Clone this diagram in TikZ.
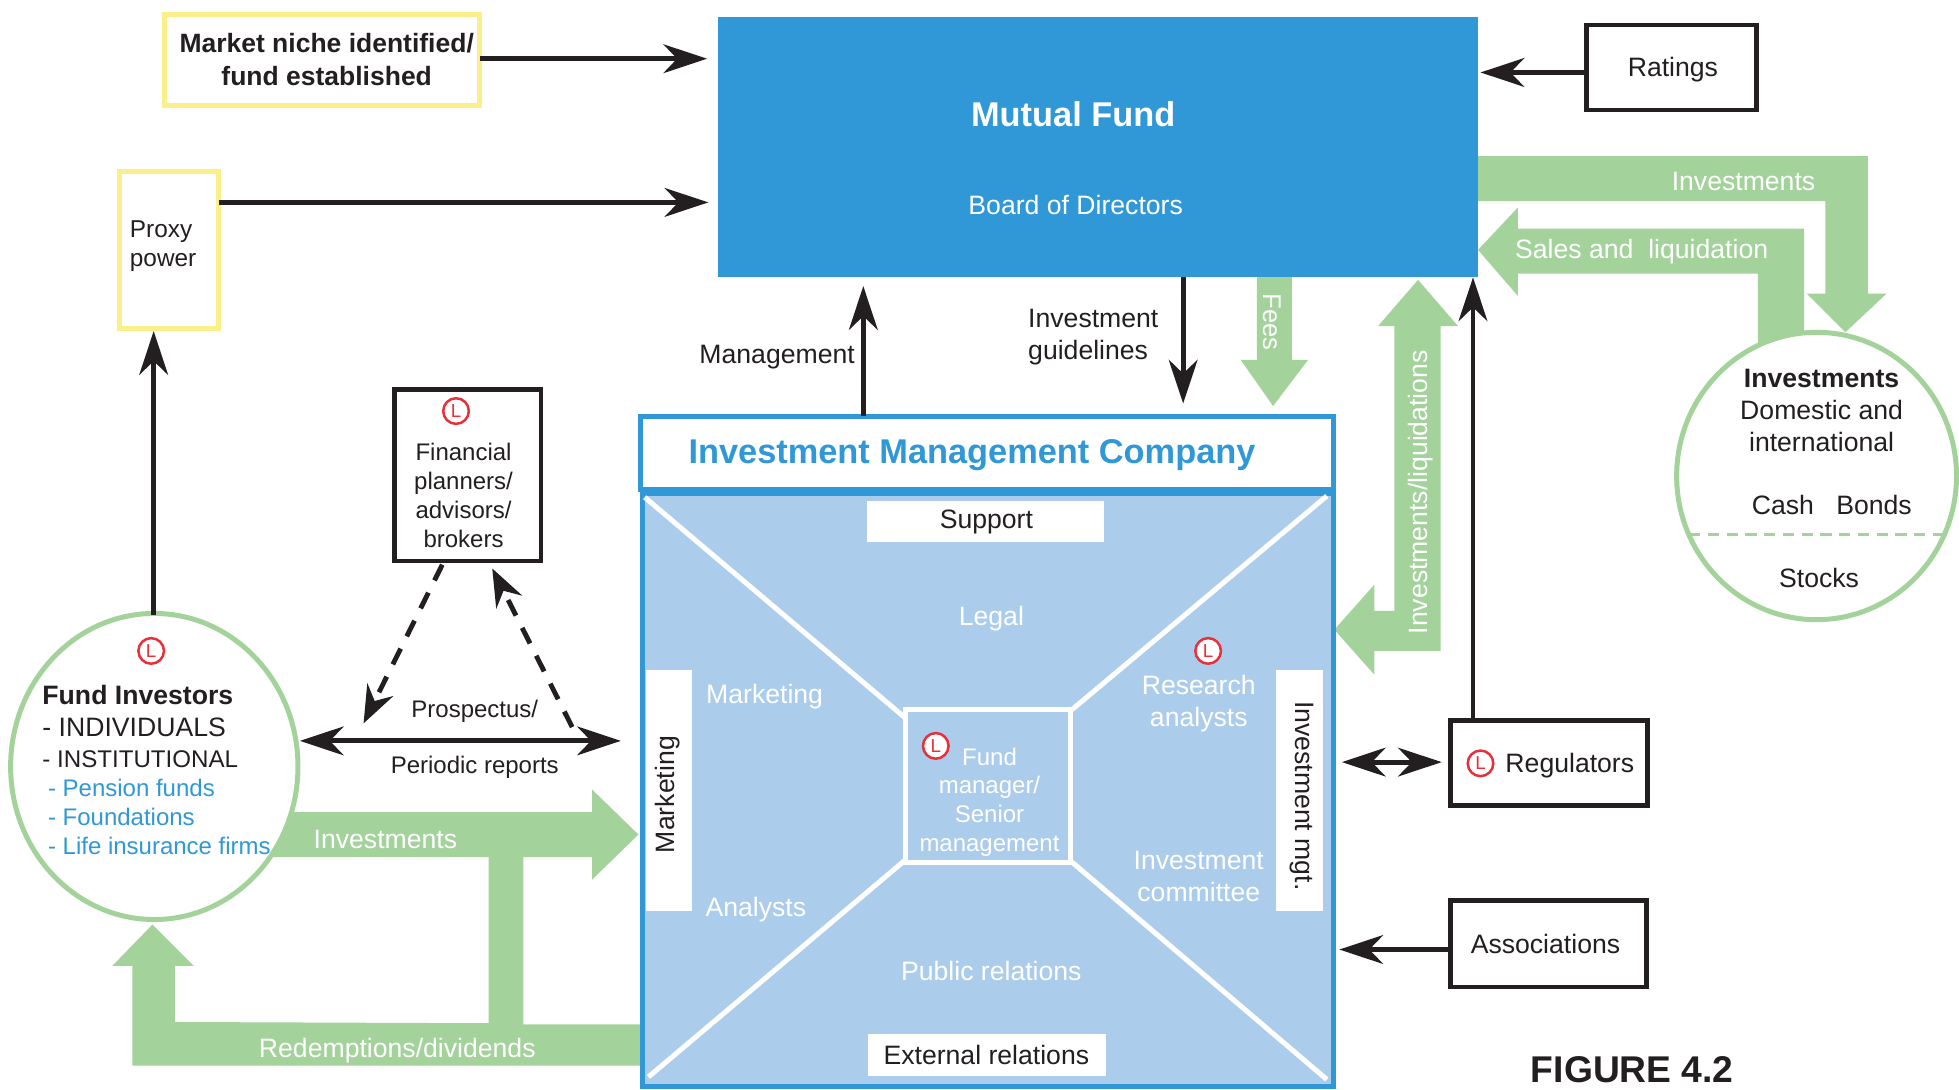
\documentclass[tikz,border=0pt]{standalone}
\usepackage{fontspec}
\setmainfont{Liberation Sans}
\usetikzlibrary{arrows.meta,shapes.geometric}
\definecolor{mfblue}{HTML}{3098D6}
\definecolor{lightblue}{HTML}{ABCDEB}
\definecolor{flowgreen}{HTML}{A3D29B}
\definecolor{ybord}{HTML}{FBEF8C}
\definecolor{inkk}{HTML}{231F20}
\definecolor{lred}{HTML}{E8303A}
\newcommand{\fs}[1]{\fontsize{#1}{#1}\selectfont}
\tikzset{
  x=1pt,y=-1pt,
  every node/.style={outer sep=0pt,inner sep=0pt,text=inkk,font=\fs{21.3}},
  ybox/.style={draw=ybord,line width=4pt,fill=white},
  kbox/.style={draw=inkk,line width=3.9pt,fill=white},
  wstrip/.style={fill=white},
  flow/.style={fill=flowgreen,draw=none},
  wtxt/.style={text=white},
  gell/.style={shape=ellipse,draw=flowgreen,line width=4pt,fill=white},
  arr/.style={draw=inkk,line width=3.9pt,-{Stealth[length=35pt,width=23pt,inset=11pt,color=inkk]}},
  dbl/.style={draw=inkk,line width=3.9pt,{Stealth[length=35pt,width=23pt,inset=11pt,color=inkk]}-{Stealth[length=35pt,width=23pt,inset=11pt,color=inkk]}},
  dsh/.style={draw=inkk,line width=3.9pt,dash pattern=on 14pt off 11pt,-{Stealth[length=30pt,width=23pt,inset=10pt,color=inkk]}},
  lmark/.style={shape=circle,draw=lred,line width=2pt,fill=white,minimum size=20.5pt,text=lred,font=\fs{15}},
  diag/.style={draw=white,line width=4pt},
}
\begin{document}
\begin{tikzpicture}
\useasboundingbox (0,0) rectangle (1568,872.4);
% green flows beneath the nodes
\path[flow] (1180,125) -- (1495,125) -- (1495,235) -- (1510,235) -- (1477,266) -- (1446,235) -- (1461,235) -- (1461,161) -- (1180,161) -- cycle;
\path[flow] (1183,200) -- (1215,166) -- (1215,183) -- (1444,183) -- (1444,290) -- (1407,290) -- (1407,219) -- (1215,219) -- (1215,237) -- cycle;
\path[flow] (1135,224) -- (1167,261) -- (1153,261) -- (1153,521) -- (1100,521) -- (1100,540) -- (1068,504) -- (1100,468) -- (1100,489) -- (1116,489) -- (1116,261) -- (1103,261) -- cycle;
\path[flow] (1006,220) -- (1034,220) -- (1034,288) -- (1047,288) -- (1019,325) -- (993,288) -- (1006,288) -- cycle;
\path[flow] (200,650) -- (474,650) -- (474,632) -- (511,668) -- (474,704) -- (474,686) -- (419,686) -- (419,820) -- (513,820) -- (513,853) -- (106,853) -- (106,773) -- (90,773) -- (122,740) -- (155,773) -- (140,773) -- (140,818) -- (391,819) -- (391,686) -- (200,686) -- cycle;

% main nodes
\node[fill=mfblue,minimum width=608pt,minimum height=208pt] (mf) at (879,118) {};
\node[text=white,font=\bfseries\fs{27.5}] (mft) at (859,91.5) {Mutual Fund};
\node[text=white,font=\fs{21.3}] (mfb) at (861,164) {Board of Directors};
\node[ybox,minimum width=252pt,minimum height=72.5pt] (market) at (258,48.2) {};
\node[align=center,font=\bfseries\fs{21.2}] (markett) at (261.5,47.5) {Market niche identified/\\[5pt]fund established};
\node[kbox,minimum width=136pt,minimum height=68pt] (ratings) at (1338,54) {};
\node (ratingst) at (1339,55.5) {Ratings};
\node[ybox,minimum width=79pt,minimum height=126pt] (proxy) at (135.5,200) {};
\node[anchor=north west,align=left,font=\fs{19.5}] (proxyt) at (104,177) {Proxy\\[3.5pt]power};
\node[kbox,minimum width=117pt,minimum height=137pt] (fp) at (374.5,380.5) {};
\node[align=center,font=\fs{19.2}] (fpt) at (371,396.5) {Financial\\[3.8pt]planners/\\[3.8pt]advisors/\\[3.8pt]brokers};
\node[lmark] (l1) at (365,329) {L};

\node[draw=mfblue,line width=4pt,fill=white,minimum width=554pt,minimum height=59pt] (hdr) at (790,362.5) {};
\node[text=mfblue,font=\bfseries\fs{27.5}] (hdrt) at (778,364) {Investment Management Company};
\node[draw=mfblue,line width=4pt,fill=lightblue,minimum width=553pt,minimum height=475pt] (body) at (790.5,632.5) {};
\coordinate (d1) at (516,398); \coordinate (d1e) at (725,575);
\coordinate (d2) at (1062,397); \coordinate (d2e) at (858,568);
\coordinate (d3) at (519,862); \coordinate (d3e) at (725,688);
\coordinate (d4) at (1062,864); \coordinate (d4e) at (858,690);
\draw[diag] (d1) -- (d1e);
\draw[diag] (d2) -- (d2e);
\draw[diag] (d3) -- (d3e);
\draw[diag] (d4) -- (d4e);
\node[draw=white,line width=4pt,fill=lightblue,minimum width=132pt,minimum height=122pt] (ctr) at (791,629) {};
\node[wtxt,align=center,font=\fs{19.2}] (ctrt) at (792,642) {Fund\\[3.8pt]manager/\\[3.8pt]Senior\\[3.8pt]management};
\node[lmark] (l2) at (749,597) {L};
\node[wstrip,minimum width=190pt,minimum height=33pt] (sup) at (789,417.5) {};
\node (supt) at (789.5,418) {Support};
\node[wstrip,minimum width=190pt,minimum height=33pt] (ext) at (790,844.5) {};
\node (extt) at (789.5,844.5) {External relations};
\node[wstrip,minimum width=37pt,minimum height=193pt] (mks) at (535.5,632.5) {};
\node[rotate=90] (mkst) at (534.5,636) {Marketing};
\node[wstrip,minimum width=38pt,minimum height=193pt] (ims) at (1040,632.5) {};
\node[rotate=-90] (imst) at (1042,637) {Investment mgt.};
\node[wtxt] (tlegal) at (793.5,495) {Legal};
\node[wtxt] (tmkt) at (612,557.5) {Marketing};
\node[wtxt] (tana) at (605,728) {Analysts};
\node[wtxt] (tpub) at (793.5,777.5) {Public relations};
\node[wtxt,align=center] (tres) at (959.5,563) {Research\\[4pt]analysts};
\node[wtxt,align=center] (tcom) at (959.5,701.5) {Investment\\[4pt]committee};
\node[lmark] (l3) at (967,521) {L};

% ellipses
\node[gell,minimum width=230pt,minimum height=245pt] (fi) at (123.5,613.5) {};
\node[lmark] (l4) at (121,521) {L};
\node[anchor=north west,align=left,font=\bfseries\fs{21.3}] (fit) at (34,548.5) {Fund Investors};
\node[anchor=north west,align=left,font=\fs{21.3}] (fit2) at (34,574.5) {- INDIVIDUALS};
\node[anchor=north west,align=left,font=\fs{19.3}] (fit3) at (34,601) {- INSTITUTIONAL};
\node[anchor=north west,align=left,text=mfblue,font=\fs{19.2}] (fib) at (38.5,624) {- Pension funds\\[3.8pt]- Foundations\\[3.8pt]- Life insurance firms};
\node[gell,minimum width=224pt,minimum height=230pt] (ie) at (1454,381) {};
\node[align=center,font=\fs{21.3}] (iet) at (1458,328.5) {\bfseries Investments\\[4pt]Domestic and\\[4pt]international};
\node (iec) at (1427,404.5) {Cash};
\node (ieb) at (1500,404.5) {Bonds};
\node (ies) at (1456,462.5) {Stocks};
\coordinate (iel) at (1352,428); \coordinate (ier) at (1557,428);
\draw[flowgreen,line width=2pt,dash pattern=on 9pt off 6pt] (iel) -- (ier);

\node[kbox,minimum width=158pt,minimum height=68pt] (reg) at (1240,611) {};
\node (regt) at (1256.5,612.5) {Regulators};
\node[lmark] (l5) at (1185,611) {L};
\node[kbox,minimum width=157pt,minimum height=69pt] (asc) at (1239.5,755.5) {};
\node (asct) at (1237,755.5) {Associations};

% labels on flows
\node[wtxt] (f1) at (1395.5,145) {Investments};
\node[wtxt] (f2) at (1314,201) {Sales and\ \ liquidation};
\node[wtxt,rotate=90] (f3) at (1137,394) {Investments/liquidations};
\node[wtxt,rotate=-90,font=\fs{20.5}] (f4) at (1018,258) {Fees};
\node[wtxt] (f5) at (308.5,672) {Investments};
\node[wtxt] (f6) at (318,841) {Redemptions/dividends};
% other labels
\node (tm) at (622,286) {Management};
\node[anchor=west,align=left] (tg) at (823,270) {Investment\\[4pt]guidelines};
\node[font=\fs{19.2}] (tp) at (380,569) {Prospectus/};
\node[font=\fs{19.2}] (tr) at (380,614.5) {Periodic reports};
\node[font=\bfseries\fs{29.8}] (fig) at (1306.5,856) {FIGURE 4.2};

% black connectors
\coordinate (a1) at (566,47); \draw[arr] (market.east |- a1) -- (a1);
\coordinate (a2) at (1185,58); \draw[arr] (ratings.west |- a2) -- (a2);
\coordinate (a3) at (567,162); \draw[arr] (proxy.east |- a3) -- (a3);
\coordinate (a4a) at (123,492); \coordinate (a4) at (123,265); \draw[arr] (a4a) -- (a4);
\coordinate (a5) at (691,229); \draw[arr] (hdr.north -| a5) -- (a5);
\coordinate (a6) at (947,323); \draw[arr] (mf.south -| a6) -- (a6);
\coordinate (a7) at (1179,222); \draw[arr] (reg.north -| a7) -- (a7);
\coordinate (a8) at (1072,760); \draw[arr] (asc.west |- a8) -- (a8);
\coordinate (b1) at (1074,610); \coordinate (b2) at (1154,610); \draw[dbl] (b1) -- (b2);
\coordinate (c1) at (240,593); \coordinate (c2) at (497,593); \draw[dbl] (c1) -- (c2);
\coordinate (e1) at (354,452); \coordinate (e2) at (291,579); \draw[dsh] (e1) -- (e2);
\coordinate (e3) at (458,582); \coordinate (e4) at (394,455); \draw[dsh] (e3) -- (e4);
\end{tikzpicture}
\end{document}
